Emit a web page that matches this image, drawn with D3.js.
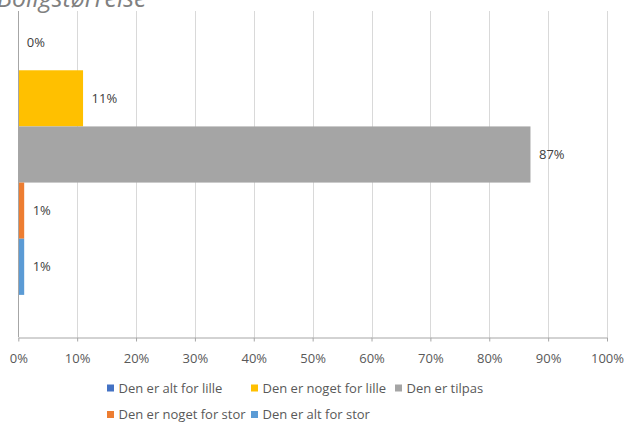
<!DOCTYPE html>
<html>
<head>
<meta charset="utf-8">
<script src="https://cdn.jsdelivr.net/npm/d3@7"></script>
<style>
  html, body { margin: 0; padding: 0; background: #fff; overflow: hidden; }
  svg { display: block; font-family: "Open Sans", "Noto Sans", sans-serif; }
</style>
</head>
<body>
<svg id="chart" width="625" height="422"></svg>
<script>
// chart data
var titleText = "Boligstørrelse";
var seriesNames = ["Den er alt for lille", "Den er noget for lille", "Den er tilpas", "Den er noget for stor", "Den er alt for stor"];
var seriesValues = [0, 11, 87, 1, 1];
var tickValues = [0, 10, 20, 30, 40, 50, 60, 70, 80, 90, 100];

var seriesColors = ["#4472C4", "#FFC000", "#A5A5A5", "#ED7D31", "#5B9BD5"];

var svg = d3.select("#chart");
var W = 625, H = 422;

// plot area (top runs above the visible picture, like the cropped original)
var plot = { left: 18.3, right: 607, top: -28, bottom: 337, gridTop: 11 };

var x = d3.scaleLinear().domain([0, 100]).range([plot.left, plot.right]);
var y = d3.scaleBand().domain(seriesNames).range([plot.top, plot.bottom])
    .paddingInner(0).paddingOuter(0.75);
var color = d3.scaleOrdinal().domain(seriesNames).range(seriesColors);

var data = seriesNames.map(function (name, i) {
    return { name: name, value: seriesValues[i] };
});

// gridlines
svg.append("g").attr("class", "grid")
    .selectAll("line")
    .data(tickValues.filter(function (d) { return d > 0; }))
    .enter().append("line")
    .attr("x1", function (d) { return Math.round(x(d)) + 0.5; })
    .attr("x2", function (d) { return Math.round(x(d)) + 0.5; })
    .attr("y1", plot.gridTop)
    .attr("y2", plot.bottom)
    .attr("stroke", "#d9d9d9")
    .attr("stroke-width", 1);

// bars
svg.append("g").attr("class", "bars")
    .selectAll("rect")
    .data(data)
    .enter().append("rect")
    .attr("x", x(0))
    .attr("y", function (d) { return y(d.name); })
    .attr("width", function (d) { return x(d.value) - x(0); })
    .attr("height", y.bandwidth())
    .attr("fill", function (d) { return color(d.name); });

// vertical axis line at 0%
svg.append("line")
    .attr("x1", Math.round(x(0)) + 0.5).attr("x2", Math.round(x(0)) + 0.5)
    .attr("y1", plot.gridTop).attr("y2", plot.bottom)
    .attr("stroke", "#a6a6a6");

// data labels
svg.append("g").attr("class", "labels")
    .selectAll("text")
    .data(data)
    .enter().append("text")
    .attr("x", function (d) { return x(d.value) + 8.5; })
    .attr("y", function (d) { return y(d.name) + y.bandwidth() / 2; })
    .attr("dy", "0.36em")
    .attr("font-size", 13)
    .attr("fill", "#404040")
    .text(function (d) { return d.value + "%"; });

// x axis
var xAxis = d3.axisBottom(x)
    .tickValues(tickValues)
    .tickFormat(function (d) { return d + "%"; })
    .tickSize(4)
    .tickPadding(12)
    .tickSizeOuter(0);

var gx = svg.append("g")
    .attr("transform", "translate(0," + (plot.bottom + 0.5) + ")")
    .call(xAxis);
gx.select(".domain").attr("stroke", "#a6a6a6");
gx.selectAll(".tick line").attr("stroke", "#a6a6a6");
gx.selectAll(".tick text")
    .attr("font-size", 13)
    .attr("font-family", "'Open Sans', 'Noto Sans', sans-serif")
    .attr("fill", "#595959");

// title (cropped at the top edge)
svg.append("text")
    .attr("x", -3)
    .attr("y", 7)
    .attr("font-size", 25)
    .attr("font-style", "italic")
    .attr("fill", "#808080")
    .text(titleText);

// legend: three columns, wraps to a second row
var legendCols = 3, colW = 144, legendX = 107, legendY = [388, 414.5];
var legend = svg.append("g").attr("class", "legend")
    .selectAll("g")
    .data(seriesNames)
    .enter().append("g")
    .attr("transform", function (d, i) {
        var col = i % legendCols, row = Math.floor(i / legendCols);
        return "translate(" + (legendX + col * colW) + "," + legendY[row] + ")";
    });

legend.append("rect")
    .attr("x", 0).attr("y", -3.5)
    .attr("width", 7).attr("height", 7)
    .attr("fill", function (d) { return color(d); });

legend.append("text")
    .attr("x", 11.5)
    .attr("dy", "0.36em")
    .attr("font-size", 13)
    .attr("fill", "#595959")
    .text(function (d) { return d; });
</script>
</body>
</html>
